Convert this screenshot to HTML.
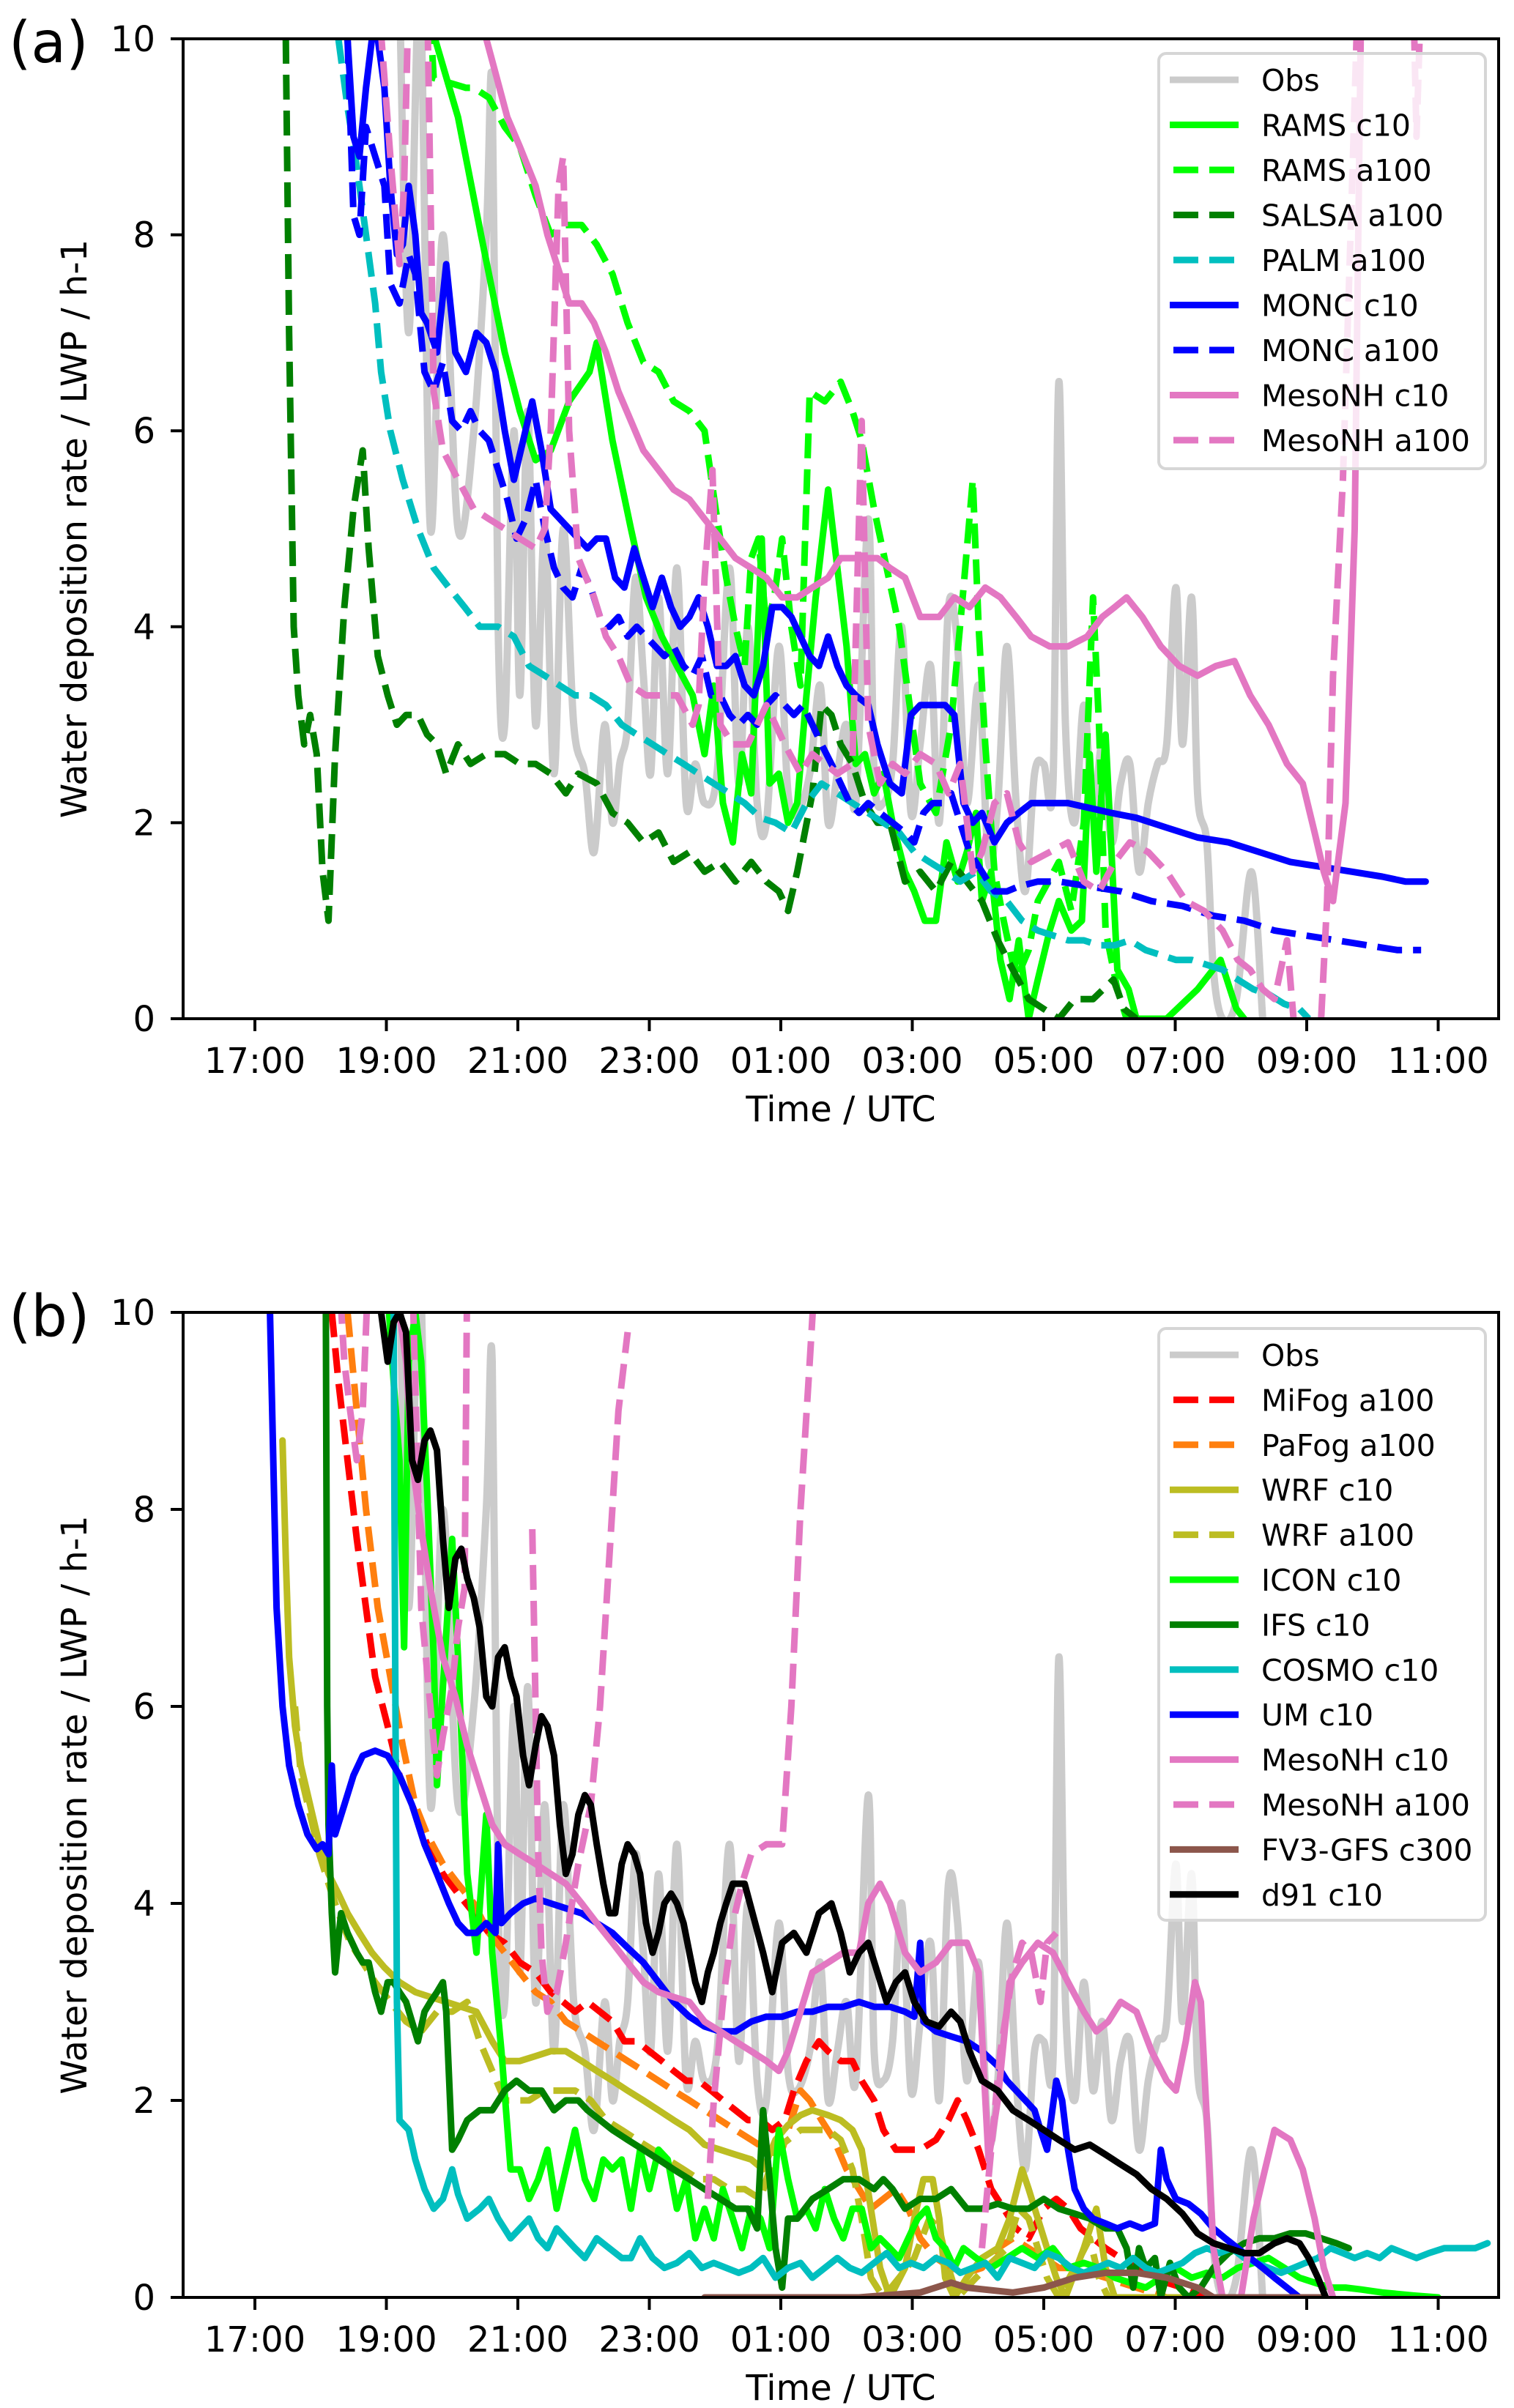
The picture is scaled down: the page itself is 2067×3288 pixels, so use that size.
<!DOCTYPE html>
<html><head><meta charset="utf-8">
<style>
html,body{margin:0;padding:0;background:#fff;}
svg{display:block;}
text{font-family:"DejaVu Sans","Liberation Sans",sans-serif;fill:#000;}
</style></head>
<body>
<svg id="fig" width="2067" height="3288" viewBox="0 0 2067 3288" xmlns="http://www.w3.org/2000/svg">
<defs>
<clipPath id="clipA"><rect x="250" y="53" width="1796" height="1338"/></clipPath>
<clipPath id="clipB"><rect x="251" y="1792" width="1795" height="1345"/></clipPath>
</defs>
<rect width="2067" height="3288" fill="#fff"/>
<g id="panelA"></g>
<g id="panelB"></g>
</svg>
<script>
// ---------- shared axis data ----------
const xTickHours = [17,19,21,23,25,27,29,31,33,35];
const xTickLabels = ["17:00","19:00","21:00","23:00","01:00","03:00","05:00","07:00","09:00","11:00"];
const yTickValues = [0,2,4,6,8,10];

// ---------- Observations (both panels) ----------
const obsT = [19.20,19.34,19.51,19.67,19.86,20.09,20.33,20.52,20.61,20.70,20.80,20.94,21.03,21.15,21.27,21.41,21.55,21.69,21.85,22.02,22.16,22.32,22.44,22.55,22.67,22.79,22.91,23.02,23.14,23.28,23.42,23.56,23.70,23.84,24.03,24.22,24.36,24.50,24.64,24.78,24.97,25.11,25.25,25.44,25.60,25.72,25.86,26.00,26.14,26.33,26.42,26.56,26.70,26.84,26.98,27.12,27.28,27.41,27.55,27.69,27.83,28.01,28.16,28.30,28.44,28.58,28.72,28.86,29.00,29.14,29.23,29.33,29.47,29.61,29.75,29.89,30.03,30.17,30.31,30.45,30.59,30.73,30.87,31.01,31.11,31.25,31.34,31.48,31.58,31.72,31.93,32.16,32.33];
const obsV = [10.5,7,10.5,5,8,5,6,8,9.5,4,3,6,3.3,6.2,3,5,2.5,5,3,2.5,1.7,3,2,2.6,3,4.5,3.5,2.5,4.3,2.5,4.6,2.2,2.6,2.2,2.5,4.6,2.4,4,2.2,2,3.8,2.3,2.1,2.5,3.4,2,2.5,3,2.2,5.1,2.5,2.2,2.6,4,2.1,2.8,3.6,2,4.2,3.8,2.2,3.4,1.6,2.2,3.8,2.2,1.3,2.5,2.6,2.4,6.5,3,2,3.2,2.1,2.8,1.8,2.4,2.6,1.5,2.2,2.6,2.8,4.4,2.8,4.3,2.3,1.8,0.5,0,0.2,1.5,0];

// ---------- Panel (a) ----------
const ramsC10T = [19.74,20.09,20.44,20.80,21.03,21.27,21.50,21.78,22.09,22.20,22.44,22.72,22.95,23.19,23.42,23.66,23.84,23.98,24.12,24.27,24.41,24.55,24.71,24.83,24.97,25.11,25.25,25.39,25.53,25.72,25.86,26.00,26.14,26.28,26.42,26.56,26.70,26.89,27.03,27.19,27.36,27.52,27.69,27.83,27.97,28.06,28.20,28.34,28.48,28.62,28.77,28.91,29.09,29.23,29.42,29.58,29.70,29.80,29.94,30.12,30.29,30.41,30.87,31.34,31.69,31.93,32.05];
const ramsC10V = [10,9.2,8,6.8,6.2,5.7,5.8,6.3,6.6,6.9,5.9,5,4.3,3.9,3.6,3.3,2.7,3.4,2.2,1.8,2.7,2.3,4.9,2.4,2.5,2,2.2,3.3,4.3,5.4,4.6,3.8,2.6,2.7,2.3,2.5,2,1.5,1.3,1.0,1.0,1.8,1.4,1.7,2.1,1.2,1.5,0.6,0.2,0.8,0,0.4,0.9,1.2,0.9,1.0,2.7,1.5,2.9,0.5,0.3,0,0,0.3,0.6,0.1,0];
const ramsA100T = [19.67,19.72,20.21,20.33,20.56,20.80,21.03,21.27,21.50,21.73,21.97,22.20,22.44,22.67,22.91,23.14,23.37,23.61,23.84,24.01,24.17,24.31,24.45,24.55,24.66,24.78,24.90,25.02,25.16,25.30,25.44,25.67,25.91,26.09,26.23,26.42,26.61,26.80,26.98,27.12,27.36,27.59,27.78,27.92,28.01,28.11,28.25,28.39,28.58,28.77,28.91,29.07,29.23,29.42,29.61,29.75,29.84,29.94,30.12,30.26,30.64];
const ramsA100V = [10.2,9.6,9.5,9.5,9.4,9.1,8.9,8.4,8.0,8.1,8.1,7.9,7.6,7.1,6.7,6.6,6.3,6.2,6.0,5.2,4.5,4.0,3.6,4.7,4.9,4.0,4.3,4.9,4.0,3.4,6.4,6.3,6.5,6.2,5.9,5.2,4.6,4.0,3.1,2.4,2.1,3.0,4.4,5.5,4.0,2.8,1.5,1.0,0.4,0.7,1.2,1.4,1.6,1.1,2.0,4.3,3.0,0.9,0.3,0,0];
const salsaT = [17.47,17.52,17.59,17.66,17.75,17.84,17.94,18.03,18.12,18.22,18.36,18.50,18.64,18.73,18.87,19.02,19.16,19.30,19.48,19.62,19.77,19.91,20.09,20.28,20.52,20.80,21.03,21.27,21.50,21.73,21.92,22.20,22.44,22.67,22.91,23.14,23.37,23.61,23.84,24.08,24.31,24.55,24.78,24.97,25.11,25.25,25.48,25.62,25.77,25.91,26.09,26.28,26.47,26.66,26.89,27.12,27.36,27.59,27.83,28.06,28.30,28.53,28.77,29.00,29.23,29.47,29.75,30.06,30.22,30.41];
const salsaV = [10,7,4,3.3,2.8,3.1,2.7,1.5,1.0,2.7,4.2,5.2,5.8,4.8,3.7,3.3,3.0,3.1,3.1,2.9,2.8,2.5,2.8,2.6,2.7,2.7,2.6,2.6,2.5,2.3,2.5,2.4,2.1,2.0,1.8,1.9,1.6,1.7,1.5,1.6,1.4,1.6,1.4,1.3,1.1,1.5,2.3,3.2,3.1,2.8,2.6,2.2,2.0,2.0,1.4,1.5,1.3,1.6,1.4,1.2,0.8,0.5,0.2,0.1,0,0.2,0.2,0.4,0.1,0];
const palmT = [18.27,18.41,18.55,18.69,18.83,18.92,19.06,19.25,19.48,19.72,19.95,20.19,20.42,20.70,20.94,21.17,21.41,21.64,21.87,22.11,22.34,22.58,22.81,23.05,23.28,23.52,23.75,23.98,24.22,24.45,24.69,24.92,25.16,25.39,25.62,25.86,26.09,26.33,26.56,26.80,27.03,27.26,27.50,27.73,27.97,28.20,28.44,28.67,28.91,29.14,29.37,29.61,29.84,30.08,30.31,30.55,30.78,31.01,31.25,31.48,31.72,31.95,32.19,32.42,32.66,32.89,33.03];
const palmV = [10,9.3,8.7,8.0,7.3,6.6,6.0,5.5,5.0,4.6,4.4,4.2,4.0,4.0,3.9,3.6,3.5,3.4,3.3,3.3,3.2,3.0,2.9,2.8,2.7,2.6,2.5,2.4,2.3,2.2,2.05,2.0,1.9,2.2,2.4,2.3,2.2,2.1,2.0,1.9,1.7,1.6,1.5,1.4,1.5,1.3,1.2,1.0,0.9,0.85,0.8,0.8,0.75,0.75,0.8,0.7,0.65,0.6,0.6,0.55,0.5,0.4,0.3,0.25,0.15,0.1,0];
const moncC10T = [18.41,18.50,18.59,18.69,18.78,18.87,18.97,19.06,19.16,19.25,19.34,19.44,19.53,19.62,19.77,19.91,20.05,20.21,20.37,20.52,20.66,20.80,20.94,21.08,21.22,21.36,21.50,21.64,21.78,21.92,22.06,22.20,22.34,22.48,22.62,22.77,22.91,23.05,23.19,23.33,23.47,23.61,23.75,23.89,24.03,24.17,24.31,24.45,24.59,24.73,24.87,25.02,25.16,25.30,25.44,25.58,25.72,25.86,26.00,26.14,26.33,26.47,26.66,26.84,26.98,27.12,27.31,27.50,27.64,27.78,27.92,28.06,28.25,28.44,28.62,28.81,29.05,29.37,29.70,30.03,30.41,30.87,31.34,31.81,32.28,32.75,33.22,33.69,34.15,34.50,34.81];
const moncC10V = [10,9,8.8,9.5,10,10,9.5,8.5,7.8,7.9,8.5,8.0,7.2,7.1,6.8,7.7,6.8,6.6,7.0,6.9,6.6,6.0,5.5,5.9,6.3,5.8,5.2,5.1,5.0,4.9,4.8,4.9,4.9,4.5,4.4,4.8,4.5,4.2,4.5,4.2,4.0,4.1,4.3,4.0,3.6,3.6,3.7,3.4,3.3,3.6,4.2,4.2,4.1,3.9,3.7,3.6,3.9,3.6,3.4,3.3,3.2,2.8,2.4,2.3,3.1,3.2,3.2,3.2,3.1,2.2,2.0,2.1,1.8,2.0,2.1,2.2,2.2,2.2,2.15,2.1,2.05,1.95,1.85,1.8,1.7,1.6,1.55,1.5,1.45,1.4,1.4];
const moncA100T = [18.41,18.50,18.59,18.69,18.83,18.97,19.06,19.20,19.34,19.44,19.58,19.72,19.86,20.00,20.14,20.28,20.42,20.56,20.70,20.84,20.98,21.12,21.27,21.41,21.55,21.69,21.83,21.97,22.11,22.25,22.39,22.53,22.67,22.81,22.95,23.09,23.23,23.37,23.52,23.66,23.80,23.94,24.08,24.22,24.36,24.50,24.64,24.78,24.92,25.06,25.20,25.34,25.48,25.62,25.77,25.91,26.05,26.19,26.33,26.51,26.70,26.89,27.03,27.17,27.31,27.45,27.59,27.73,27.87,28.06,28.25,28.44,28.62,28.91,29.23,29.70,30.17,30.64,31.11,31.58,32.05,32.51,32.98,33.45,33.92,34.38,34.74];
const moncA100V = [10,8.2,8.0,9.1,8.8,8.5,7.5,7.3,7.8,7.6,6.6,6.4,6.7,6.1,6.0,6.2,6.0,5.9,5.6,5.3,4.9,5.1,5.5,5.0,4.6,4.4,4.3,4.6,4.4,4.1,4.0,4.1,3.9,4.0,3.9,3.8,3.7,3.8,3.6,3.5,3.7,3.3,3.3,3.1,3.0,3.1,3.0,3.2,3.3,3.2,3.1,3.2,3.0,2.8,2.6,2.4,2.2,2.1,2.2,2.1,2.0,1.9,1.8,2.1,2.2,2.2,2.3,2.0,1.7,1.5,1.3,1.3,1.35,1.4,1.4,1.35,1.3,1.2,1.15,1.05,1.0,0.9,0.85,0.8,0.75,0.7,0.7];
const mesoC10aT = [20.52,20.68,20.84,21.03,21.27,21.45,21.64,21.78,21.97,22.16,22.34,22.53,22.72,22.91,23.14,23.37,23.61,23.84,24.08,24.31,24.55,24.78,25.02,25.25,25.48,25.72,25.91,26.09,26.28,26.47,26.66,26.89,27.12,27.41,27.64,27.87,28.11,28.34,28.58,28.81,29.09,29.37,29.66,29.89,30.08,30.26,30.50,30.78,31.06,31.34,31.62,31.90,32.14,32.42,32.70,32.94,33.12,33.26,33.40,33.59,33.73,33.83];
const mesoC10aV = [10,9.6,9.2,8.9,8.5,8.0,7.6,7.3,7.3,7.1,6.8,6.4,6.1,5.8,5.6,5.4,5.3,5.1,4.9,4.7,4.6,4.5,4.3,4.3,4.4,4.5,4.7,4.7,4.7,4.7,4.6,4.5,4.1,4.1,4.3,4.2,4.4,4.3,4.1,3.9,3.8,3.8,3.9,4.1,4.2,4.3,4.1,3.8,3.6,3.5,3.6,3.65,3.3,3.0,2.6,2.4,1.9,1.5,1.2,2.2,5,10.5];
const mesoA100aT = [18.87,19.06,19.20,19.27,19.34,null,19.62,19.72,19.86,20.09,20.33,20.56,20.80,21.03,21.27,21.41,21.50,21.62,21.69,21.78,21.92,22.16,22.34,22.53,22.72,22.95,23.19,23.42,23.66,23.75,23.84,23.96,24.08,24.27,24.50,24.78,25.06,25.30,25.48,25.67,25.86,26.09,26.23,26.33,26.51,26.70,26.89,27.12,27.36,27.55,27.73,27.92,28.06,28.25,28.44,28.62,28.81,29.09,29.37,29.61,29.84,30.08,30.31,30.59,30.87,31.16,31.44,31.72,31.95,32.14,32.33,32.51,32.70,32.80,null,33.22,33.31,33.40,33.55,33.69,33.78,null,34.62,34.67,34.74];
const mesoA100aV = [10.5,8.8,7.7,8.5,10.5,null,10.5,6.4,5.8,5.5,5.2,5.1,5.0,4.9,4.8,5,6,8.5,8.8,6,4.7,4.3,3.9,3.7,3.4,3.3,3.3,3.3,3.0,3.2,4.5,5.6,3.0,2.8,2.8,3.2,2.8,2.5,2.7,2.6,2.5,2.6,6.1,3.0,2.4,2.6,2.5,2.7,2.6,2.3,2.6,1.5,1.7,2.2,2.3,1.8,1.6,1.7,1.8,1.4,1.3,1.6,1.8,1.7,1.5,1.2,1.1,0.9,0.6,0.5,0.3,0.2,0.8,0,null,0,1.2,3.5,5.5,8.5,10.5,null,10.5,9.0,10.5];

// ---------- Panel (b) ----------
const mifogT = [18.17,18.27,18.41,18.55,18.69,18.83,19.02,19.20,19.39,19.62,19.86,20.09,20.33,20.56,20.80,21.03,21.27,21.50,21.69,21.87,22.06,22.25,22.44,22.62,22.81,23.00,23.19,23.37,23.56,23.75,23.94,24.12,24.31,24.50,24.69,24.87,25.06,25.20,25.39,25.58,25.72,25.91,26.09,26.23,26.42,26.56,26.75,26.94,27.12,27.36,27.55,27.69,27.83,28.01,28.20,28.39,28.58,28.77,29.00,29.19,29.37,29.56,29.75,29.94,30.17,30.41,30.64,30.87,31.11,31.30,31.48];
const mifogV = [10,9.3,8.5,7.7,7,6.3,5.8,5.3,5.0,4.6,4.3,4.1,3.9,3.7,3.6,3.4,3.3,3.1,3.0,2.9,3.0,2.9,2.8,2.6,2.6,2.5,2.4,2.3,2.2,2.2,2.1,2.0,1.9,1.8,1.8,1.7,1.8,2.1,2.4,2.6,2.5,2.4,2.4,2.2,2.0,1.7,1.5,1.5,1.5,1.6,1.8,2.0,1.8,1.5,1.1,0.9,0.7,0.6,0.9,1.0,0.9,0.7,0.6,0.5,0.4,0.3,0.2,0.15,0.1,0.05,0];
const pafogT = [18.41,18.55,18.69,18.87,19.06,19.25,19.44,19.62,19.86,20.09,20.33,20.56,20.80,21.03,21.27,21.50,21.73,21.97,22.20,22.44,22.67,22.91,23.14,23.37,23.61,23.84,24.08,24.31,24.55,24.78,25.02,25.16,25.30,25.44,25.62,25.81,26.00,26.19,26.37,26.56,26.75,26.94,27.12,27.36,27.59,27.83,28.06,28.30,28.53,28.77,29.00,29.23,29.47,29.70,29.94,30.17,30.41,30.64,30.87];
const pafogV = [10,9,8,7,6.3,5.6,5.0,4.7,4.4,4.2,4.0,3.7,3.5,3.3,3.1,3.0,2.8,2.7,2.6,2.5,2.4,2.3,2.2,2.1,2.0,1.9,1.8,1.7,1.6,1.5,1.5,1.8,2.1,2.0,1.8,1.6,1.3,1.1,0.9,1.0,1.1,0.9,0.6,0.4,0.3,0.25,0.3,0.5,0.6,0.5,0.4,0.3,0.3,0.25,0.2,0.15,0.1,0.05,0];
const wrfC10T = [17.42,17.47,17.52,17.61,17.70,17.84,17.98,18.12,18.27,18.41,18.59,18.78,18.97,19.20,19.44,19.67,19.91,20.14,20.37,20.61,20.80,21.03,21.27,21.50,21.73,21.97,22.20,22.44,22.67,22.91,23.14,23.37,23.61,23.84,24.08,24.31,24.55,24.73,24.92,25.11,25.30,25.48,25.72,25.91,26.09,26.23,26.37,26.51,26.66,26.89,27.03,27.17,27.31,27.41,27.50,27.64,27.83,28.06,28.30,28.48,28.67,28.77,28.91,29.05,29.19,29.33,29.61,29.80,29.94,30.08,31.11];
const wrfC10V = [8.7,7.5,6.5,5.8,5.4,5.0,4.6,4.3,4.1,3.9,3.7,3.5,3.35,3.2,3.1,3.05,3.0,2.95,2.9,2.6,2.4,2.4,2.45,2.5,2.5,2.4,2.3,2.2,2.1,2.0,1.9,1.8,1.7,1.55,1.5,1.45,1.4,1.3,1.6,1.75,1.85,1.9,1.85,1.8,1.7,1.5,0.9,0.3,0,0.3,0.8,1.2,1.2,0.8,0.2,0,0.2,0.4,0.5,0.8,1.3,1.1,0.8,0.5,0.2,0,0.5,0.9,0.3,0,0];
const wrfA100T = [17.61,17.70,17.84,17.98,18.12,18.27,18.45,18.64,18.83,19.06,19.30,19.53,19.77,20.00,20.23,20.42,20.61,20.80,20.98,21.17,21.41,21.64,21.87,22.11,22.34,22.58,22.81,23.05,23.28,23.52,23.75,23.98,24.22,24.45,24.69,24.92,25.11,25.30,25.48,25.72,25.91,26.09,26.23,26.37,26.56,26.80,27.03,27.26,27.41,27.55,27.69,27.97,28.20,28.44,28.62,28.77,28.91,29.05,29.23,29.47,29.70,29.84,29.98];
const wrfA100V = [6.0,5.3,4.9,4.5,4.2,3.9,3.6,3.4,3.2,3.0,2.8,2.7,2.9,2.9,3.0,2.6,2.3,2.0,2.0,2.0,2.1,2.1,2.1,2.0,1.8,1.7,1.6,1.5,1.4,1.3,1.2,1.2,1.1,1.1,1.0,1.5,1.6,1.7,1.7,1.7,1.6,1.3,0.8,0.2,0,0.2,0.4,0.8,0.7,0.3,0,0.2,0.35,0.5,0.9,0.8,0.5,0.2,0,0.3,0.6,0.2,0];
const iconT = [19.04,19.11,19.20,19.27,19.34,19.44,19.53,19.62,19.72,19.77,19.86,20.00,20.09,20.23,20.37,20.52,20.61,20.75,20.89,21.03,21.17,21.31,21.45,21.59,21.73,21.87,22.02,22.16,22.30,22.44,22.58,22.72,22.86,23.00,23.14,23.28,23.42,23.56,23.70,23.84,23.98,24.12,24.27,24.41,24.55,24.69,24.83,24.97,25.11,25.25,25.39,25.53,25.67,25.81,25.95,26.09,26.23,26.37,26.51,26.66,26.80,26.94,27.08,27.22,27.36,27.50,27.64,27.78,27.97,28.20,28.44,28.67,28.91,29.14,29.37,29.61,29.84,30.08,30.31,30.55,30.78,31.01,31.25,31.48,31.72,31.95,32.19,32.42,32.66,32.89,33.12,33.36,33.59,33.83,34.15,34.62,35.00];
const iconV = [10,9.3,8.5,6.6,9.5,10,9.5,8.2,6.5,5.2,6.2,7.7,6.5,4.3,3.5,4.9,3.5,2.5,1.3,1.3,1.0,1.2,1.5,0.9,1.3,1.7,1.2,1.0,1.4,1.3,1.4,0.9,1.5,1.1,1.5,1.4,0.9,1.2,0.6,0.9,0.6,1.1,0.8,0.5,0.9,0.8,0.5,1.7,1.2,0.8,0.9,0.7,1.1,0.8,0.6,0.9,0.9,0.5,0.6,0.5,0.4,0.6,0.8,0.9,0.6,0.5,0.3,0.5,0.4,0.3,0.4,0.5,0.4,0.5,0.3,0.35,0.3,0.2,0.15,0.1,0.2,0.3,0.2,0.25,0.2,0.3,0.35,0.4,0.3,0.2,0.15,0.1,0.1,0.08,0.05,0.02,0];
const ifsT = [18.08,18.10,18.12,18.17,18.22,18.31,18.41,18.55,18.64,18.73,18.83,18.92,19.02,19.11,19.20,19.30,19.39,19.48,19.58,19.67,19.77,19.86,19.91,20.00,20.09,20.23,20.42,20.61,20.80,20.98,21.17,21.36,21.55,21.73,21.92,22.06,22.25,22.44,22.67,22.91,23.14,23.37,23.61,23.84,24.08,24.31,24.50,24.64,24.73,24.83,24.92,25.02,25.11,25.25,25.48,25.72,25.95,26.19,26.42,26.56,26.70,26.89,27.12,27.36,27.59,27.83,28.06,28.30,28.53,28.77,29.00,29.23,29.47,29.70,29.94,30.12,30.26,30.36,30.45,30.55,30.69,30.78,30.92,31.06,31.20,31.39,31.58,31.81,32.05,32.28,32.51,32.75,32.98,33.22,33.45,33.64];
const ifsV = [10,6,4.8,3.9,3.3,3.9,3.7,3.5,3.4,3.4,3.1,2.9,3.2,3.2,3.1,3.0,2.8,2.6,2.9,3.0,3.1,3.2,2.9,1.5,1.6,1.8,1.9,1.9,2.1,2.2,2.1,2.1,1.9,2.0,2.0,1.9,1.8,1.7,1.6,1.5,1.4,1.3,1.2,1.1,1.0,0.9,0.9,0.7,1.9,1.2,0.5,0.1,0.8,0.8,1.0,1.1,1.2,1.2,1.1,1.2,1.1,0.9,1.0,1.0,1.1,0.9,0.9,0.95,0.9,0.9,1.0,0.9,0.85,0.8,0.7,0.7,0.5,0.1,0.5,0.3,0.4,0.0,0.35,0.1,0.0,0.1,0.3,0.45,0.55,0.6,0.6,0.65,0.65,0.6,0.55,0.5];
const cosmoT = [19.11,19.13,19.16,19.20,19.34,19.44,19.58,19.72,19.86,20.00,20.09,20.23,20.42,20.56,20.70,20.89,21.03,21.17,21.31,21.45,21.59,21.73,21.87,22.02,22.20,22.39,22.58,22.72,22.86,23.05,23.23,23.42,23.61,23.80,23.98,24.17,24.36,24.55,24.73,24.92,25.11,25.30,25.48,25.67,25.86,26.05,26.23,26.42,26.61,26.80,26.98,27.17,27.36,27.55,27.73,27.92,28.11,28.30,28.48,28.67,28.86,29.05,29.23,29.42,29.61,29.80,29.98,30.17,30.36,30.55,30.73,30.92,31.11,31.30,31.48,31.67,31.86,32.05,32.23,32.42,32.61,32.80,32.98,33.17,33.36,33.55,33.73,33.92,34.11,34.29,34.48,34.67,34.86,35.09,35.33,35.56,35.75];
const cosmoV = [10,7,3,1.8,1.7,1.4,1.1,0.9,1.0,1.3,1.05,0.8,0.9,1.0,0.8,0.6,0.7,0.8,0.6,0.5,0.7,0.6,0.5,0.4,0.6,0.5,0.4,0.4,0.6,0.4,0.3,0.35,0.45,0.3,0.35,0.3,0.25,0.3,0.4,0.2,0.3,0.35,0.2,0.3,0.4,0.3,0.25,0.35,0.45,0.3,0.35,0.3,0.4,0.35,0.25,0.3,0.35,0.2,0.4,0.35,0.3,0.45,0.4,0.3,0.25,0.3,0.35,0.3,0.4,0.3,0.25,0.3,0.35,0.45,0.5,0.45,0.5,0.4,0.35,0.3,0.25,0.3,0.35,0.4,0.5,0.45,0.4,0.45,0.4,0.5,0.45,0.4,0.45,0.5,0.5,0.5,0.55];
const umT = [17.23,17.28,17.33,17.42,17.52,17.66,17.80,17.94,18.03,18.12,18.17,18.22,18.36,18.50,18.64,18.83,19.02,19.20,19.39,19.58,19.77,19.95,20.09,20.23,20.37,20.52,20.66,20.70,20.75,20.89,21.08,21.27,21.50,21.73,21.97,22.20,22.44,22.67,22.91,23.14,23.37,23.61,23.84,24.08,24.31,24.55,24.78,25.02,25.25,25.48,25.72,25.95,26.19,26.42,26.66,26.89,27.03,27.12,27.17,27.36,27.59,27.83,28.06,28.30,28.44,28.58,28.72,28.86,28.95,29.05,29.19,29.28,29.37,29.47,29.61,29.75,29.94,30.12,30.31,30.50,30.69,30.78,30.87,31.01,31.20,31.39,31.58,31.76,31.95,32.14,32.33,32.51,32.70,32.89];
const umV = [10,8.5,7,6.0,5.4,5.0,4.7,4.55,4.6,4.5,5.4,4.7,5.0,5.3,5.5,5.55,5.5,5.3,5.0,4.6,4.3,4.0,3.8,3.7,3.7,3.8,3.7,4.6,3.8,3.9,4.0,4.05,4.0,3.95,3.9,3.8,3.7,3.55,3.4,3.2,3.0,2.85,2.75,2.7,2.7,2.8,2.85,2.85,2.9,2.9,2.95,2.95,3.0,2.95,2.95,2.9,2.85,3.6,2.8,2.7,2.65,2.6,2.5,2.35,2.2,2.1,2.0,1.9,1.7,1.5,2.2,2.0,1.5,1.1,0.9,0.8,0.75,0.7,0.75,0.7,0.75,1.5,1.2,1.0,0.95,0.85,0.7,0.6,0.5,0.4,0.3,0.2,0.1,0.0];
const mesoC10bT = [19.20,19.30,19.39,19.53,19.67,19.86,20.05,20.23,20.42,20.61,20.80,21.03,21.27,21.50,21.73,21.97,22.20,22.44,22.67,22.91,23.14,23.37,23.61,23.84,24.08,24.31,24.55,24.78,24.97,25.11,25.30,25.48,25.72,25.95,26.19,26.33,26.51,26.66,26.89,27.12,27.36,27.59,27.83,28.01,28.16,28.30,28.48,28.67,28.91,29.14,29.37,29.61,29.80,29.98,30.17,30.41,30.64,30.87,31.01,31.16,31.30,31.39,31.58,31.72,32.00,32.19,32.33,32.51,32.75,32.94,33.12,33.26,33.40];
const mesoC10bV = [10,9.5,8.5,7.8,7.2,6.5,6.1,5.6,5.2,4.8,4.6,4.5,4.4,4.3,4.2,4.0,3.8,3.6,3.4,3.2,3.1,3.05,3.0,2.8,2.7,2.6,2.5,2.4,2.3,2.5,2.9,3.3,3.4,3.5,3.5,4.0,4.2,4.0,3.5,3.3,3.4,3.6,3.6,3.3,1.4,2.0,3.2,3.4,3.6,3.5,3.2,2.9,2.7,2.8,3.0,2.9,2.5,2.2,2.1,2.6,3.2,3.0,0.5,0,0,0.8,1.2,1.7,1.6,1.3,0.8,0.3,0];
const mesoA100bT = [18.27,18.36,18.45,18.55,18.64,18.73,null,19.39,19.53,19.67,19.77,19.86,20.00,20.09,20.19,20.23,null,21.22,21.27,21.31,21.36,21.45,21.59,21.73,21.92,22.11,22.25,22.39,22.53,22.67,null,23.89,23.98,24.12,24.27,24.41,24.55,24.78,25.02,25.16,25.30,25.44,25.53,null,28.06,28.20,28.34,28.53,28.67,28.81,28.95,29.05,29.19];
const mesoA100bV = [10.5,9.5,9.0,8.5,9.0,10.5,null,10.5,7,6,5.3,5.7,6.2,6.8,7.2,10.5,null,7.8,6,4.5,3.5,2.9,3.1,3.6,4.4,5.0,6.0,7.5,9,9.8,null,1.0,2.0,3.0,3.8,4.2,4.5,4.6,4.6,6,8,9.5,10.5,null,0.5,1.5,2.5,3.3,3.6,3.5,3.0,3.6,3.7];
const fv3T = [23.84,26.19,27.12,27.59,27.83,28.53,29.00,29.47,29.94,30.41,30.87,31.34,31.58,33.22];
const fv3V = [0,0,0.05,0.15,0.1,0.05,0.1,0.2,0.25,0.25,0.2,0.1,0,0];
const d91T = [18.92,19.02,19.11,19.20,19.30,19.39,19.48,19.58,19.67,19.77,19.86,19.95,20.05,20.14,20.23,20.33,20.42,20.52,20.61,20.70,20.80,20.89,20.98,21.08,21.17,21.27,21.36,21.45,21.55,21.64,21.73,21.83,21.92,22.02,22.11,22.20,22.30,22.39,22.48,22.58,22.67,22.77,22.86,22.95,23.05,23.14,23.23,23.33,23.42,23.52,23.61,23.70,23.80,23.89,23.98,24.08,24.17,24.27,24.36,24.45,24.73,24.87,25.02,25.20,25.39,25.58,25.77,25.91,26.05,26.19,26.33,26.47,26.61,26.75,26.89,27.03,27.22,27.41,27.59,27.73,27.87,28.06,28.30,28.53,28.77,29.00,29.23,29.47,29.70,29.94,30.17,30.41,30.64,30.87,31.11,31.34,31.58,31.81,32.05,32.28,32.51,32.70,32.89,33.03,33.17,33.29];
const d91V = [10,9.5,9.9,10,9.8,8.5,8.3,8.7,8.8,8.6,7.7,7.0,7.5,7.6,7.3,7.1,6.8,6.1,6.0,6.5,6.6,6.3,6.1,5.5,5.2,5.6,5.9,5.8,5.5,4.8,4.3,4.5,4.9,5.1,5.0,4.6,4.2,3.9,3.9,4.4,4.6,4.5,4.3,3.8,3.5,3.7,4.0,4.1,4.0,3.8,3.5,3.2,3.0,3.3,3.5,3.8,4.0,4.2,4.2,4.2,3.5,3.1,3.6,3.7,3.5,3.9,4.0,3.7,3.3,3.5,3.6,3.3,3.0,3.2,3.3,3.0,2.8,2.75,2.9,2.8,2.5,2.2,2.1,1.9,1.8,1.7,1.6,1.5,1.55,1.45,1.35,1.25,1.1,1.0,0.85,0.65,0.55,0.5,0.45,0.45,0.55,0.6,0.55,0.4,0.2,0];

// ---------- rendering ----------
const NS = "http://www.w3.org/2000/svg";
const X_LEFT = 250, X_RIGHT = 2046;
function xScale(h){ return 348 + (h - 17) * 89.75; }
const panels = {
  a:{top:53, bot:1391, g:document.getElementById('panelA'), clip:'clipA'},
  b:{top:1792, bot:3137, g:document.getElementById('panelB'), clip:'clipB'}
};
function yScale(p, v){ return p.bot - v * (p.bot - p.top) / 10; }
function mk(tag, attrs, parent){
  const el = document.createElementNS(NS, tag);
  for (const k in attrs) el.setAttribute(k, attrs[k]);
  if (parent) parent.appendChild(el);
  return el;
}
const LW = 9, DASH = "34 15";

function drawSeries(p, T, V, color, dashed, name, width, smooth){
  const n = Math.min(T.length, V.length);
  let d = "";
  let seg = [];
  const flush = () => {
    if (!seg.length) return;
    d += "M" + seg[0][0].toFixed(1) + " " + seg[0][1].toFixed(1) + " ";
    for (let i = 1; i < seg.length; i++){
      if (smooth){
        const p0 = seg[Math.max(i-2,0)], p1 = seg[i-1], p2 = seg[i], p3 = seg[Math.min(i+1, seg.length-1)];
        const c1x = p1[0] + (p2[0]-p0[0])/6, c1y = p1[1] + (p2[1]-p0[1])/6;
        const c2x = p2[0] - (p3[0]-p1[0])/6, c2y = p2[1] - (p3[1]-p1[1])/6;
        d += "C" + c1x.toFixed(1)+" "+c1y.toFixed(1)+" "+c2x.toFixed(1)+" "+c2y.toFixed(1)+" "+p2[0].toFixed(1)+" "+p2[1].toFixed(1)+" ";
      } else {
        d += "L" + seg[i][0].toFixed(1) + " " + seg[i][1].toFixed(1) + " ";
      }
    }
    seg = [];
  };
  for (let i = 0; i < n; i++){
    if (T[i] === null || V[i] === null){ flush(); continue; }
    seg.push([xScale(T[i]), yScale(p, V[i])]);
  }
  flush();
  const path = mk('path', {d:d, fill:'none', stroke:color, 'stroke-width':width||LW, 'stroke-linejoin':'round', 'stroke-linecap': dashed?'butt':'round', 'clip-path':'url(#'+p.clip+')'}, p.g);
  if (dashed) path.setAttribute('stroke-dasharray', DASH);
  
  
}

function drawAxes(p, label, panelKey){
  const g = p.g;
  yTickValues.forEach(v => {
    const y = yScale(p, v);
    const t = mk('line', {x1:X_LEFT-17, x2:X_LEFT, y1:y, y2:y, stroke:'#000', 'stroke-width':4}, g);
    
    
    const tx = mk('text', {x:212, y:y+17, 'font-size':48, 'text-anchor':'end'}, g);
    tx.textContent = String(v);
    
    
  });
  xTickHours.forEach((h, i) => {
    const x = xScale(h);
    const t = mk('line', {x1:x, x2:x, y1:p.bot, y2:p.bot+17, stroke:'#000', 'stroke-width':4}, g);
    
    
    const tx = mk('text', {x:x, y:p.bot+74, 'font-size':48, 'text-anchor':'middle'}, g);
    tx.textContent = xTickLabels[i];
    
    
  });
  const fr = mk('rect', {x:X_LEFT, y:p.top, width:X_RIGHT-X_LEFT, height:p.bot-p.top, fill:'none', stroke:'#000', 'stroke-width':4}, g);
  
  
  const xt = mk('text', {x:(X_LEFT+X_RIGHT)/2, y:p.bot+140, 'font-size':48, 'text-anchor':'middle'}, g);
  xt.textContent = 'Time / UTC';
  
  
  const cy = (p.top + p.bot)/2;
  const yt = mk('text', {x:0, y:0, 'font-size':48, 'text-anchor':'middle', transform:'translate(118,'+cy+') rotate(-90)'}, g);
  yt.textContent = 'Water deposition rate / LWP / h-1';
  
  
  const pl = mk('text', {x:12, y:p.top+32, 'font-size':78}, g);
  pl.textContent = label;
  
  
}

function drawLegend(p, entries, x, top, rowH, height){
  const g = mk('g', {}, p.g);
  
  
  mk('rect', {x:x, y:top, width:446, height:height, rx:10, fill:'rgba(255,255,255,0.82)', stroke:'#d6d6d6', 'stroke-width':4}, g);
  entries.forEach((e, i) => {
    const y = top + 36 + i * rowH;
    const le = mk('g', {}, g);
    
    
    const ln = mk('line', {x1:x+15, x2:x+109, y1:y, y2:y, stroke:e[1], 'stroke-width':LW}, le);
    if (e[2]) { ln.setAttribute('stroke-dasharray', DASH); ln.setAttribute('x1', x+20); ln.setAttribute('x2', x+104); }
    const tx = mk('text', {x:x+140, y:y+15, 'font-size':41}, le);
    tx.textContent = e[0];
  });
}

const GRAY='#cbcbcb', LIME='#00ff00', DKG='#008000', CYAN='#00bfbf', BLUE='#0000ff', PINK='#e377c2', RED='#ff0000', ORANGE='#ff7f0e', OLIVE='#bcbd22', BROWN='#8c564b', BLACK='#000000';

// Panel a
const A = panels.a;
drawSeries(A, obsT, obsV, GRAY, false, 'obs-line-a', 10, true);
drawSeries(A, ramsC10T, ramsC10V, LIME, false, 'rams-c10-line');
drawSeries(A, ramsA100T, ramsA100V, LIME, true, 'rams-a100-line');
drawSeries(A, salsaT, salsaV, DKG, true, 'salsa-a100-line');
drawSeries(A, palmT, palmV, CYAN, true, 'palm-a100-line');
drawSeries(A, moncC10T, moncC10V, BLUE, false, 'monc-c10-line');
drawSeries(A, moncA100T, moncA100V, BLUE, true, 'monc-a100-line');
drawSeries(A, mesoC10aT, mesoC10aV, PINK, false, 'mesonh-c10-line-a');
drawSeries(A, mesoA100aT, mesoA100aV, PINK, true, 'mesonh-a100-line-a');
drawAxes(A, '(a)', 'a');
drawLegend(A, [['Obs',GRAY,false],['RAMS c10',LIME,false],['RAMS a100',LIME,true],['SALSA a100',DKG,true],['PALM a100',CYAN,true],['MONC c10',BLUE,false],['MONC a100',BLUE,true],['MesoNH c10',PINK,false],['MesoNH a100',PINK,true]], 1582, 73, 61.5, 567);

// Panel b
const B = panels.b;
drawSeries(B, obsT, obsV, GRAY, false, 'obs-line-b', 10, true);
drawSeries(B, mifogT, mifogV, RED, true, 'mifog-a100-line');
drawSeries(B, pafogT, pafogV, ORANGE, true, 'pafog-a100-line');
drawSeries(B, wrfC10T, wrfC10V, OLIVE, false, 'wrf-c10-line');
drawSeries(B, wrfA100T, wrfA100V, OLIVE, true, 'wrf-a100-line');
drawSeries(B, iconT, iconV, LIME, false, 'icon-c10-line');
drawSeries(B, ifsT, ifsV, DKG, false, 'ifs-c10-line');
drawSeries(B, cosmoT, cosmoV, CYAN, false, 'cosmo-c10-line');
drawSeries(B, umT, umV, BLUE, false, 'um-c10-line');
drawSeries(B, mesoC10bT, mesoC10bV, PINK, false, 'mesonh-c10-line-b');
drawSeries(B, mesoA100bT, mesoA100bV, PINK, true, 'mesonh-a100-line-b');
drawSeries(B, fv3T, fv3V, BROWN, false, 'fv3-gfs-c300-line');
drawSeries(B, d91T, d91V, BLACK, false, 'd91-c10-line');
drawAxes(B, '(b)', 'b');
drawLegend(B, [['Obs',GRAY,false],['MiFog a100',RED,true],['PaFog a100',ORANGE,true],['WRF c10',OLIVE,false],['WRF a100',OLIVE,true],['ICON c10',LIME,false],['IFS c10',DKG,false],['COSMO c10',CYAN,false],['UM c10',BLUE,false],['MesoNH c10',PINK,false],['MesoNH a100',PINK,true],['FV3-GFS c300',BROWN,false],['d91 c10',BLACK,false]], 1582, 1814, 61.4, 808);
</script>
</body></html>
